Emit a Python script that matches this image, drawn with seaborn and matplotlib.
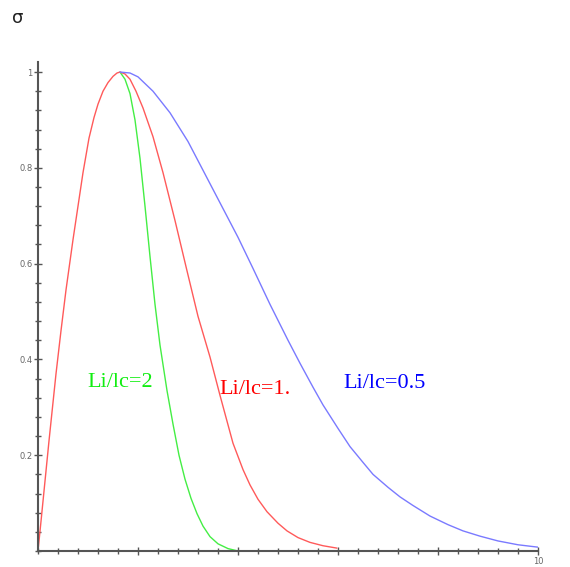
import numpy as np
import pandas as pd
import matplotlib
matplotlib.use("Agg")
import matplotlib.pyplot as plt
from matplotlib.ticker import MultipleLocator, FixedLocator, FixedFormatter
import seaborn as sns

# ---- data ----
red_x = [0, 0.06, 0.12, 0.22, 0.36, 0.46, 0.56, 0.7, 0.8, 0.9, 1.02, 1.12, 1.2, 1.3,
         1.4, 1.5, 1.58, 1.64, 1.74, 1.84, 1.96, 2.1, 2.3, 2.5, 2.74, 2.98, 3.2,
         3.44, 3.64, 3.9, 4.1, 4.24, 4.4, 4.58, 4.8, 4.98, 5.2, 5.44, 5.7, 5.98]
red_y = [0, 0.062, 0.125, 0.23, 0.37, 0.46, 0.545, 0.65, 0.72, 0.79, 0.862, 0.905,
         0.933, 0.96, 0.978, 0.991, 0.998, 1.0, 0.996, 0.985, 0.96, 0.925, 0.865,
         0.79, 0.69, 0.585, 0.49, 0.405, 0.325, 0.225, 0.17, 0.138, 0.108, 0.082,
         0.058, 0.042, 0.028, 0.018, 0.011, 0.006]

green_x = [1.64, 1.74, 1.84, 1.94, 2.04, 2.14, 2.24, 2.34, 2.44, 2.58, 2.7, 2.82,
           2.94, 3.06, 3.18, 3.3, 3.44, 3.6, 3.8, 4.0]
green_y = [1.0, 0.985, 0.955, 0.9, 0.82, 0.72, 0.615, 0.515, 0.43, 0.335, 0.265,
           0.2, 0.15, 0.11, 0.078, 0.052, 0.03, 0.015, 0.005, 0.0]

blue_x = [1.64, 1.84, 2.0, 2.3, 2.64, 3.0, 3.3, 3.64, 4.0, 4.3, 4.64, 5.0, 5.24,
          5.5, 5.7, 6.0, 6.24, 6.5, 6.7, 7.0, 7.24, 7.5, 7.84, 8.2, 8.5, 8.84,
          9.2, 9.6, 10.0]
blue_y = [1.0, 0.998, 0.99, 0.96, 0.915, 0.855, 0.795, 0.727, 0.655, 0.59, 0.515,
          0.44, 0.392, 0.342, 0.305, 0.256, 0.218, 0.185, 0.16, 0.133, 0.113,
          0.095, 0.073, 0.055, 0.042, 0.031, 0.021, 0.013, 0.008]

labels = ["Li/lc=2", "Li/lc=1.", "Li/lc=0.5"]
label_x = [1.64, 4.34, 6.94]
label_y = [0.351, 0.338, 0.349]

y_ticks = [0.2, 0.4, 0.6, 0.8, 1.0]
y_tick_labels = ["0.2", "0.4", "0.6", "0.8", "1"]
x_ticks = [2, 4, 6, 8, 10]
x_tick_labels = ["", "", "", "", "10"]

# ---- plotting ----
sns.set_style("white")
fig = plt.figure(figsize=(5.70, 5.67), dpi=100)
ax = fig.add_axes([38 / 570, 16 / 567, 500 / 570, 489 / 567])

line_colors = ["#44ee44", "#ff5a5a", "#7a7aff"]
text_colors = ["#11ee11", "#ff0000", "#0000ff"]

sns.lineplot(x=green_x, y=green_y, ax=ax, color=line_colors[0], lw=1.0, sort=False)
sns.lineplot(x=red_x, y=red_y, ax=ax, color=line_colors[1], lw=1.0, sort=False)
sns.lineplot(x=blue_x, y=blue_y, ax=ax, color=line_colors[2], lw=1.0, sort=False)

for t, tx, ty, c in zip(labels, label_x, label_y, text_colors):
    ax.text(tx, ty, t, color=c, fontsize=16, family="Liberation Serif",
            ha="center", va="center")

ax.set_xlim(0, 10)
ax.set_ylim(0, 1.021)

for s in ["top", "right"]:
    ax.spines[s].set_visible(False)
for s in ["left", "bottom"]:
    ax.spines[s].set_color("#555555")
    ax.spines[s].set_linewidth(1.5)

ax.yaxis.set_major_locator(FixedLocator(y_ticks))
ax.yaxis.set_major_formatter(FixedFormatter(y_tick_labels))
ax.xaxis.set_major_locator(FixedLocator(x_ticks))
ax.xaxis.set_major_formatter(FixedFormatter(x_tick_labels))
ax.yaxis.set_minor_locator(MultipleLocator(0.04))
ax.xaxis.set_minor_locator(MultipleLocator(0.4))

ax.tick_params(which="major", direction="inout", length=6, width=1.0,
               color="#555555", labelsize=6, labelcolor="#666666", pad=1)
ax.tick_params(which="minor", direction="inout", length=4, width=1.0,
               color="#555555")
ax.tick_params(axis="y", which="both", left=True)
ax.tick_params(axis="x", which="both", bottom=True)
ax.set_xlabel("")
ax.set_ylabel("")

fig.text(18 / 570, 1 - 18 / 567, "σ", fontsize=13, color="#222222",
         ha="center", va="center")

fig.savefig("out.png", dpi=100)
